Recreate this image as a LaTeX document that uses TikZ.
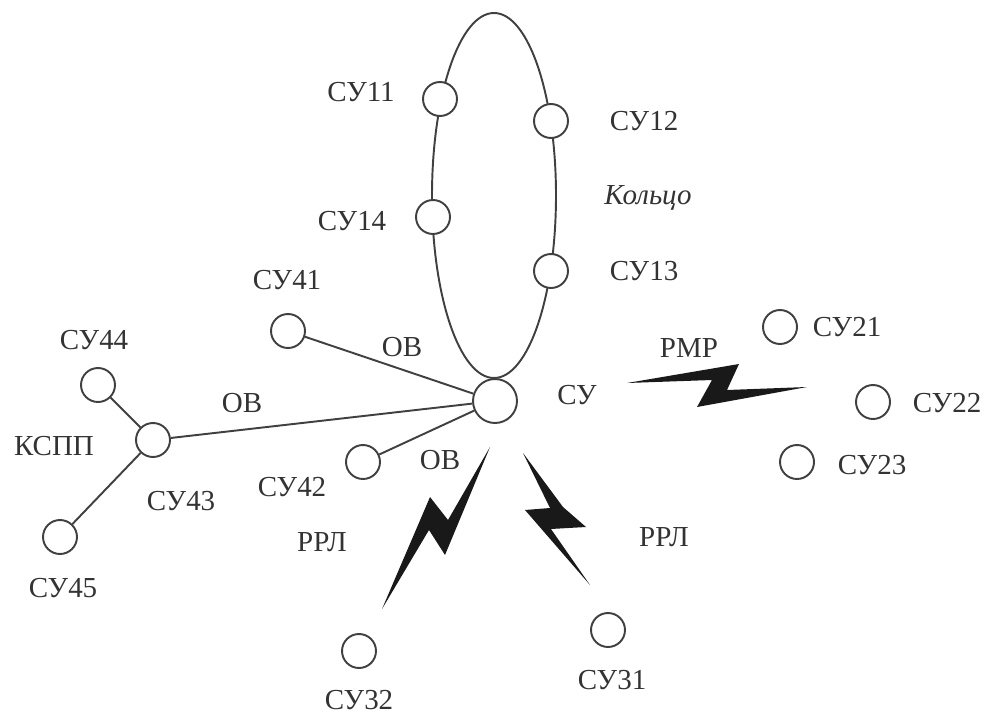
\documentclass[tikz,border=0pt]{standalone}
\usepackage{fontspec}
\setmainfont{Liberation Serif}
\usetikzlibrary{arrows,shapes}
\tikzstyle{vertex}=[circle,draw=black!75,line width=1.1pt,fill=white,minimum size=0.88cm,inner sep=0pt]
\tikzstyle{smallvertex}=[circle,draw=black!75,line width=1.1pt,fill=white,minimum size=0.68cm,inner sep=0pt]
\tikzstyle{undirectededge} = [draw,line width=1.1pt,black!75]
\tikzstyle{sutext} = [text=black!80,font=\fontsize{16.5}{18}\selectfont,inner sep=0pt]
\tikzstyle{bolt} = [fill=black!90]

\begin{document}
\begin{tikzpicture}[x=0.02cm,y=-0.02cm]
    \useasboundingbox (0,0) rectangle (987,713);
    % First we draw the ring
    \draw[line width=1.1pt,black!75] (494,195.5) ellipse [x radius=62, y radius=182.5];

    % Then the vertices
    \node[vertex] (su) at (495,401) {};
    \foreach \pos/\name in {{(440,99)/su11}, {(551,121)/su12}, {(551,271)/su13}, {(433,217)/su14}, {(780,327)/su21}, {(873,402)/su22}, {(797,462)/su23}, {(608,630)/su31}, {(359,651)/su32}, {(288,331)/su41}, {(363,462)/su42}, {(153,440)/su43}, {(98,385)/su44}, {(60,537)/su45}}
        \node[smallvertex] (\name) at \pos {};

    % Connect vertices with edges
    \foreach \source/ \dest in {su41/su, su43/su, su42/su, su44/su43, su45/su43}
        \path[undirectededge] (\source) -- (\dest);

    % Labels
    \foreach \pos/\name/\txt in {{(361,92)/t11/СУ11}, {(644,121)/t12/СУ12}, {(644,271)/t13/СУ13}, {(352,221)/t14/СУ14}, {(847,327)/t21/СУ21}, {(947,403)/t22/СУ22}, {(872,465)/t23/СУ23}, {(612,680)/t31/СУ31}, {(359,700)/t32/СУ32}, {(287,280)/t41/СУ41}, {(292,487)/t42/СУ42}, {(181,501)/t43/СУ43}, {(94,340)/t44/СУ44}, {(63,588)/t45/СУ45}, {(577,395)/tsu/СУ}, {(54,446)/tkspp/КСПП}, {(402,347)/tob1/ОВ}, {(242,403)/tob2/ОВ}, {(440,460)/tob3/ОВ}, {(322,542)/trrl1/РРЛ}, {(664,537)/trrl2/РРЛ}, {(689,348)/trmr/РМР}}
        \node[sutext] (\name) at \pos {\txt};
    \node[sutext,font=\fontsize{16.5}{18}\selectfont\itshape] (tring) at (648,198) {Кольцо};

    % Radio links
    \path[bolt] (490,447) -- (445,555) -- (429,530) -- (382,609) -- (430,497) -- (448,520) -- cycle;
    \path[bolt] (523,453) -- (563,507) -- (586,527) -- (551,529) -- (590,585) -- (525,510) -- (550,508) -- cycle;
    \path[bolt] (627,383) -- (739,364) -- (727,390) -- (807,387) -- (697,407) -- (712,380) -- cycle;
\end{tikzpicture}
\end{document}
